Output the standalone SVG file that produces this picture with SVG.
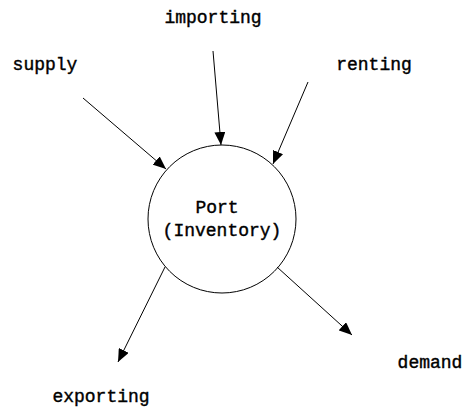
<svg xmlns="http://www.w3.org/2000/svg" width="463" height="410" viewBox="0 0 463 410">
  <style>
    .lbl { font-family: "Liberation Mono", "DejaVu Sans Mono", monospace; font-size: 18px; fill: #000; stroke: #000; stroke-width: 0.4; }
    .edge { stroke: #000; stroke-width: 1; fill: none; marker-end: url(#arrow); }
    .node { fill: #fff; stroke: #000; stroke-width: 1; }
  </style>
  <defs>
    <marker id="arrow" viewBox="0 0 13 11" refX="13" refY="5.5" markerWidth="13" markerHeight="11" markerUnits="userSpaceOnUse" orient="auto">
      <path d="M0,0 L13,5.5 L0,11 Z" fill="#000"/>
    </marker>
  </defs>
  <rect width="463" height="410" fill="#fff"/>

  <g id="port">
    <circle class="node" cx="222" cy="219" r="74"/>
    <text class="lbl" x="217" y="213" text-anchor="middle">Port</text>
    <text class="lbl" x="222" y="236" text-anchor="middle">(Inventory)</text>
  </g>

  <g id="importing"><text class="lbl" x="213" y="23" text-anchor="middle">importing</text></g>
  <g id="supply"><text class="lbl" x="45" y="70" text-anchor="middle">supply</text></g>
  <g id="renting"><text class="lbl" x="374" y="70" text-anchor="middle">renting</text></g>
  <g id="exporting"><text class="lbl" x="101" y="402" text-anchor="middle">exporting</text></g>
  <g id="demand"><text class="lbl" x="430" y="368" text-anchor="middle">demand</text></g>

  <g id="connectors">
    <line class="edge" x1="213" y1="51" x2="221" y2="145"/>
    <line class="edge" x1="83" y1="98" x2="166" y2="169"/>
    <line class="edge" x1="308" y1="82" x2="273" y2="164"/>
    <line class="edge" x1="165" y1="267" x2="118" y2="362"/>
    <line class="edge" x1="277" y1="267" x2="352" y2="335"/>
  </g>
</svg>
